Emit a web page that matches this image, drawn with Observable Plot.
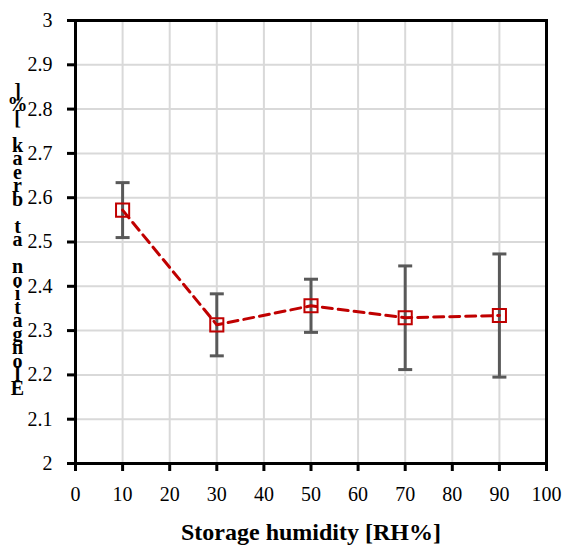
<!DOCTYPE html>
<html>
<head>
<meta charset="utf-8">
<script src="https://cdn.jsdelivr.net/npm/d3@7"></script>
<script src="https://cdn.jsdelivr.net/npm/@observablehq/plot@0.6"></script>
<style>
  html, body { margin: 0; padding: 0; background: #fff; font-family: "Liberation Serif", serif; }
  #chart svg { display: block; }
  svg text, svg tspan { font-family: "Liberation Serif", serif !important; }
</style>
</head>
<body>
<div id="chart"></div>
<script>
const humidity = [10, 30, 50, 70, 90];
const elongation = [2.572, 2.313, 2.356, 2.329, 2.334];
const stdDev = [0.062, 0.07, 0.06, 0.117, 0.139];
const xTicks = [0, 10, 20, 30, 40, 50, 60, 70, 80, 90, 100];
const yTicks = [2, 2.1, 2.2, 2.3, 2.4, 2.5, 2.6, 2.7, 2.8, 2.9, 3];
const xLabel = "Storage humidity [RH%]";
const yLabel = "Elongation at break [%]";

const data = humidity.map((h, i) => ({h, v: elongation[i], lo: elongation[i] - stdDev[i], hi: elongation[i] + stdDev[i]}));
const yLabelStacked = Array.from(yLabel).reverse().join("\n");

const capSymbol = {
  draw(context, size) {
    const w = Math.sqrt(size) / 2;
    context.moveTo(-w, 0);
    context.lineTo(w, 0);
  }
};

const font = "Liberation Serif";

const chart = Plot.plot({
  width: 572,
  height: 547,
  marginTop: 20,
  marginBottom: 84,
  marginLeft: 75,
  marginRight: 26,
  style: "font-family: 'Liberation Serif', serif; background: white; color: black;",
  x: {domain: [0, 100]},
  y: {domain: [2, 3]},
  marks: [
    Plot.gridX(xTicks, {stroke: "#d9d9d9", strokeOpacity: 1, strokeWidth: 2}),
    Plot.gridY(yTicks, {stroke: "#d9d9d9", strokeOpacity: 1, strokeWidth: 2}),
    Plot.ruleX(data, {x: "h", y1: "lo", y2: "hi", stroke: "#595959", strokeWidth: 3}),
    Plot.dot(data, {x: "h", y: "lo", symbol: capSymbol, r: 7.9, stroke: "#595959", strokeWidth: 3, fill: "none"}),
    Plot.dot(data, {x: "h", y: "hi", symbol: capSymbol, r: 7.9, stroke: "#595959", strokeWidth: 3, fill: "none"}),
    Plot.line(data, {x: "h", y: "v", stroke: "#c00000", strokeWidth: 3, strokeDasharray: "10,6"}),
    Plot.dot(data, {x: "h", y: "v", symbol: "square", r: 7.4, stroke: "#c00000", strokeWidth: 2, fill: "none"}),
    Plot.frame({stroke: "black", strokeWidth: 3}),
    Plot.axisY(yTicks, {tickSize: 8, tickPadding: 15, stroke: "black", strokeWidth: 3, fontSize: 20, fontFamily: font, fill: "black", label: null, tickFormat: d => String(+d.toFixed(1))}),
    Plot.axisX(xTicks, {tickSize: 8, tickPadding: 15, stroke: "black", strokeWidth: 3, fontSize: 20, fontFamily: font, fill: "black", label: null, tickFormat: d => String(d)}),
    Plot.text([xLabel], {frameAnchor: "bottom", text: d => d, dy: 69, fontSize: 24, fontWeight: "bold", fontFamily: font, lineAnchor: "middle", fill: "black"}),
    Plot.text([yLabelStacked], {frameAnchor: "left", text: d => d, dx: -58, fontSize: 20, fontWeight: "bold", fontFamily: font, lineHeight: 0.675, lineAnchor: "middle", textAnchor: "middle", fill: "black"})
  ]
});
chart.setAttribute("font-family", font);
document.getElementById("chart").appendChild(chart);
</script>
</body>
</html>
